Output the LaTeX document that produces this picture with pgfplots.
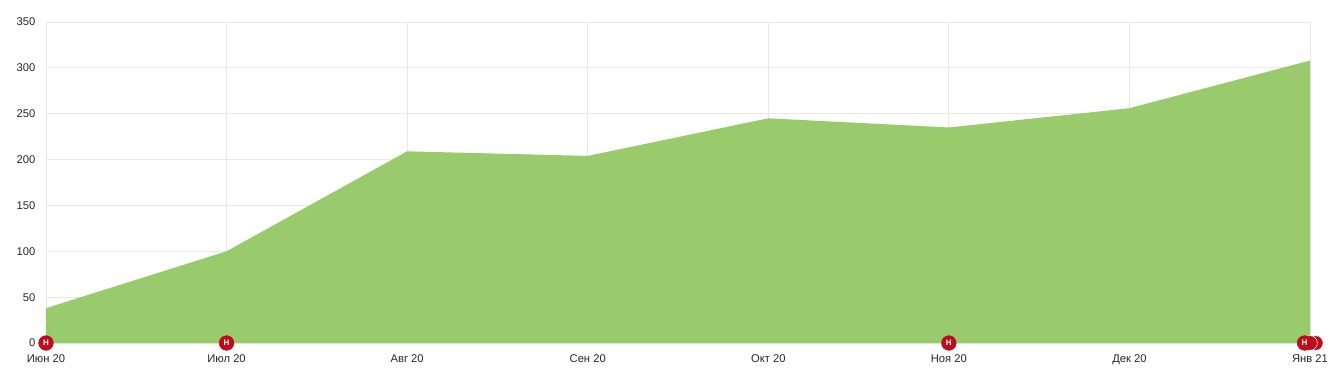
\documentclass[border=0pt]{standalone}
\usepackage{fontspec}
\setmainfont{Liberation Sans}
\usepackage{pgfplots}
\pgfplotsset{compat=1.18}
\definecolor{areagreen}{HTML}{96C967}
\definecolor{gridc}{HTML}{E8E8E8}
\definecolor{markred}{HTML}{BE0C1C}
\begin{document}
\begin{tikzpicture}[x=0.75pt,y=0.75pt]
\path[use as bounding box] (-46,-37) rectangle (1294,343);
\begin{axis}[
  at={(0,0)},anchor=south west,
  scale only axis,
  width=948pt,height=240.75pt,
  xmin=0,xmax=7,ymin=0,ymax=350,
  xtick={0,1,2,3,4,5,6,7},
  xticklabels={Июн 20,Июл 20,Авг 20,Сен 20,Окт 20,Ноя 20,Дек 20,Янв 21},
  ytick={0,50,100,150,200,250,300,350},
  grid=major,
  grid style={gridc,line width=0.6pt},
  axis line style={gridc,line width=0.6pt},
  major tick length=0pt,
  tick style={draw=none},
  axis on top=false,
  clip=false,
  /pgf/number format/assume math mode=true,
  tick label style={font=\fontsize{8.4pt}{10pt}\selectfont,text=black!85},
  xticklabel style={yshift=-5.5pt},
  yticklabel style={xshift=-4.5pt},
]
\addplot[draw=none,fill=areagreen,fill opacity=0.97] coordinates {
  (0,38) (1,100) (2,209) (3,204) (4,245) (5,235) (6,256) (7,308) (7,0) (0,0)
} \closedcycle;
\addplot[only marks,mark=*,mark size=5.5pt,
  mark options={draw=white,fill=markred,line width=0.4pt}] coordinates {(7.032,0)};
\addplot[only marks,mark=*,mark size=5.5pt,
  mark options={draw=white,fill=markred,line width=0.4pt}] coordinates {(7.0,0)};
\addplot[only marks,mark=*,mark size=5.5pt,
  mark options={draw=markred,fill=markred,line width=0.4pt},
  nodes near coords={\textbf{Н}},
  every node near coord/.style={anchor=center,text=white,font=\fontsize{6pt}{6pt}\selectfont,inner sep=0pt}]
  coordinates {(0,0) (1,0) (5,0) (6.97,0)};
\end{axis}
\end{tikzpicture}
\end{document}
